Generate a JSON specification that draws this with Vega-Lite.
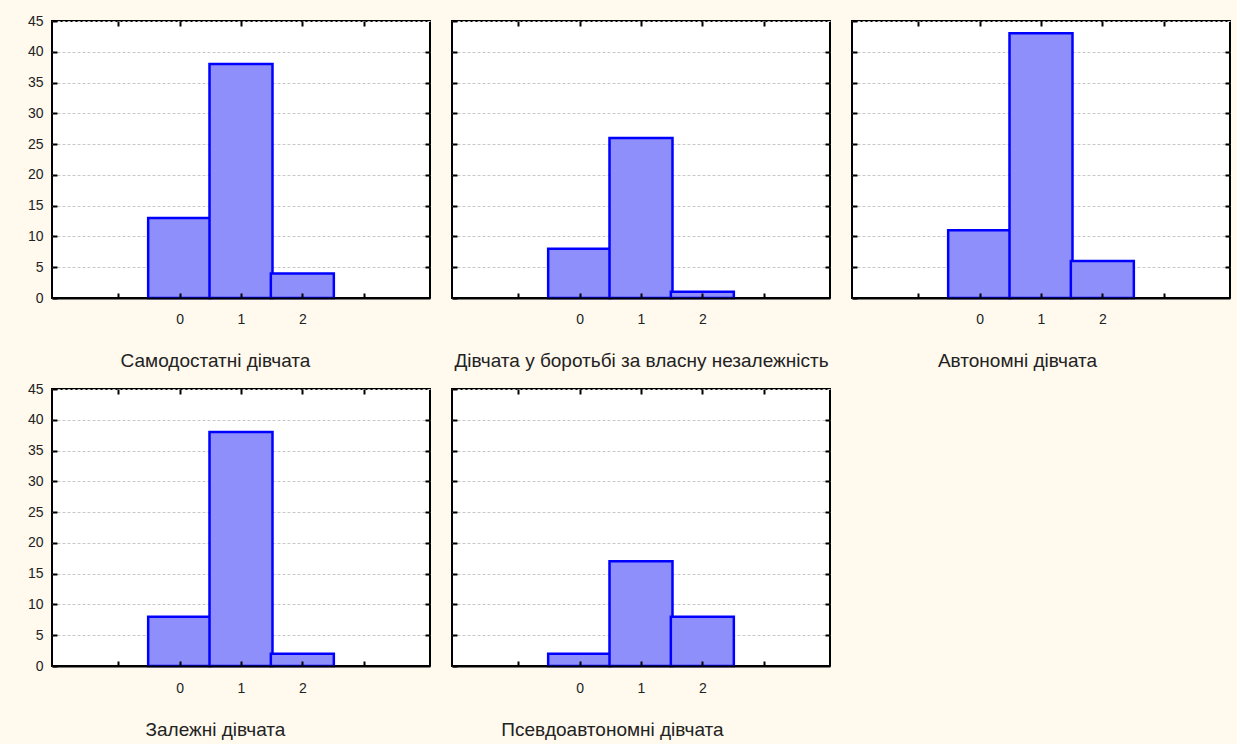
{
  "$schema": "https://vega.github.io/schema/vega-lite/v6.json",
  "background": "#FFF9EE",
  "padding": {"left": 26, "top": 13, "right": 5, "bottom": 5},
  "data": {"values": [
    {"group": "Самодостатні дівчата", "value": 0, "count": 13},
    {"group": "Самодостатні дівчата", "value": 1, "count": 38},
    {"group": "Самодостатні дівчата", "value": 2, "count": 4},
    {"group": "Дівчата у боротьбі за власну незалежність", "value": 0, "count": 8},
    {"group": "Дівчата у боротьбі за власну незалежність", "value": 1, "count": 26},
    {"group": "Дівчата у боротьбі за власну незалежність", "value": 2, "count": 1},
    {"group": "Автономні дівчата", "value": 0, "count": 11},
    {"group": "Автономні дівчата", "value": 1, "count": 43},
    {"group": "Автономні дівчата", "value": 2, "count": 6},
    {"group": "Залежні дівчата", "value": 0, "count": 8},
    {"group": "Залежні дівчата", "value": 1, "count": 38},
    {"group": "Залежні дівчата", "value": 2, "count": 2},
    {"group": "Псевдоавтономні дівчата", "value": 0, "count": 2},
    {"group": "Псевдоавтономні дівчата", "value": 1, "count": 17},
    {"group": "Псевдоавтономні дівчата", "value": 2, "count": 8}
  ]},
  "config": {
    "font": "Liberation Sans",
    "view": {"fill": "white", "stroke": "black", "strokeWidth": 2},
    "axis": {
      "domain": false,
      "grid": false,
      "tickColor": "black",
      "tickWidth": 2,
      "tickSize": -5,
      "labelFont": "Liberation Sans",
      "labelFontSize": 14,
      "labelColor": "#222222",
      "titleFont": "Liberation Sans",
      "titleFontSize": 19,
      "titleFontWeight": "normal",
      "titleColor": "#222222"
    }
  },
  "columns": 3,
  "bounds": "flush",
  "spacing": {"row": 91, "column": 22},
  "concat": [
    {
      "width": 378, "height": 277,
      "transform": [{"filter": "datum.group === 'Самодостатні дівчата'"}],
      "layer": [
        {"mark": {"type": "bar", "width": 63, "fill": "#8f8ffb", "stroke": "#0000ff", "strokeWidth": 2.5},
         "encoding": {
           "x": {"field": "value", "type": "quantitative", "scale": {"domain": [-2, 4], "nice": false, "zero": false},
                 "axis": {"orient": "bottom", "values": [-1, 0, 1, 2, 3], "labelExpr": "datum.value >= 0 && datum.value <= 2 ? datum.label : ''",
                          "domain": true, "domainColor": "black", "domainWidth": 2, "zindex": 1, "labelPadding": 30, "labelBaseline": "alphabetic",
                          "title": "Самодостатні дівчата", "titleX": 163, "titleY": 68, "titleBaseline": "alphabetic"}},
           "y": {"field": "count", "type": "quantitative", "scale": {"domain": [0, 45], "nice": false},
                 "axis": {"orient": "left", "values": [0, 5, 10, 15, 20, 25, 30, 35, 40, 45], "grid": true, "gridColor": "#c8c8c8", "gridDash": [3, 2], "gridWidth": 1, "labelPadding": 14, "title": null}}
         }},
        {"mark": {"type": "bar", "width": 63, "opacity": 0},
         "encoding": {
           "x": {"field": "value", "type": "quantitative", "axis": {"orient": "top", "values": [-1, 0, 1, 2, 3], "labels": false, "title": null}},
           "y": {"field": "count", "type": "quantitative", "axis": {"orient": "right", "values": [5, 10, 15, 20, 25, 30, 35, 40], "labels": false, "title": null}}
         }}
      ]
    },
    {
      "width": 378, "height": 277,
      "transform": [{"filter": "datum.group === 'Дівчата у боротьбі за власну незалежність'"}],
      "layer": [
        {"mark": {"type": "bar", "width": 63, "fill": "#8f8ffb", "stroke": "#0000ff", "strokeWidth": 2.5},
         "encoding": {
           "x": {"field": "value", "type": "quantitative", "scale": {"domain": [-2, 4], "nice": false, "zero": false},
                 "axis": {"orient": "bottom", "values": [-1, 0, 1, 2, 3], "labelExpr": "datum.value >= 0 && datum.value <= 2 ? datum.label : ''",
                          "domain": true, "domainColor": "black", "domainWidth": 2, "zindex": 1, "labelPadding": 30, "labelBaseline": "alphabetic",
                          "title": "Дівчата у боротьбі за власну незалежність", "titleFontSize": 19, "titleX": 189, "titleY": 68, "titleBaseline": "alphabetic"}},
           "y": {"field": "count", "type": "quantitative", "scale": {"domain": [0, 45], "nice": false},
                 "axis": {"orient": "left", "values": [0, 5, 10, 15, 20, 25, 30, 35, 40, 45], "labels": false, "grid": true, "gridColor": "#c8c8c8", "gridDash": [3, 2], "gridWidth": 1, "title": null}}
         }},
        {"mark": {"type": "bar", "width": 63, "opacity": 0},
         "encoding": {
           "x": {"field": "value", "type": "quantitative", "axis": {"orient": "top", "values": [-1, 0, 1, 2, 3], "labels": false, "title": null}},
           "y": {"field": "count", "type": "quantitative", "axis": {"orient": "right", "values": [5, 10, 15, 20, 25, 30, 35, 40], "labels": false, "title": null}}
         }}
      ]
    },
    {
      "width": 378, "height": 277,
      "transform": [{"filter": "datum.group === 'Автономні дівчата'"}],
      "layer": [
        {"mark": {"type": "bar", "width": 63, "fill": "#8f8ffb", "stroke": "#0000ff", "strokeWidth": 2.5},
         "encoding": {
           "x": {"field": "value", "type": "quantitative", "scale": {"domain": [-2, 4], "nice": false, "zero": false},
                 "axis": {"orient": "bottom", "values": [-1, 0, 1, 2, 3], "labelExpr": "datum.value >= 0 && datum.value <= 2 ? datum.label : ''",
                          "domain": true, "domainColor": "black", "domainWidth": 2, "zindex": 1, "labelPadding": 30, "labelBaseline": "alphabetic",
                          "title": "Автономні дівчата", "titleX": 165, "titleY": 68, "titleBaseline": "alphabetic"}},
           "y": {"field": "count", "type": "quantitative", "scale": {"domain": [0, 45], "nice": false},
                 "axis": {"orient": "left", "values": [0, 5, 10, 15, 20, 25, 30, 35, 40, 45], "labels": false, "grid": true, "gridColor": "#c8c8c8", "gridDash": [3, 2], "gridWidth": 1, "title": null}}
         }},
        {"mark": {"type": "bar", "width": 63, "opacity": 0},
         "encoding": {
           "x": {"field": "value", "type": "quantitative", "axis": {"orient": "top", "values": [-1, 0, 1, 2, 3], "labels": false, "title": null}},
           "y": {"field": "count", "type": "quantitative", "axis": {"orient": "right", "values": [5, 10, 15, 20, 25, 30, 35, 40], "labels": false, "title": null}}
         }}
      ]
    },
    {
      "width": 378, "height": 277,
      "transform": [{"filter": "datum.group === 'Залежні дівчата'"}],
      "layer": [
        {"mark": {"type": "bar", "width": 63, "fill": "#8f8ffb", "stroke": "#0000ff", "strokeWidth": 2.5},
         "encoding": {
           "x": {"field": "value", "type": "quantitative", "scale": {"domain": [-2, 4], "nice": false, "zero": false},
                 "axis": {"orient": "bottom", "values": [-1, 0, 1, 2, 3], "labelExpr": "datum.value >= 0 && datum.value <= 2 ? datum.label : ''",
                          "domain": true, "domainColor": "black", "domainWidth": 2, "zindex": 1, "labelPadding": 31, "labelBaseline": "alphabetic",
                          "title": "Залежні дівчата", "titleX": 163, "titleY": 69, "titleBaseline": "alphabetic"}},
           "y": {"field": "count", "type": "quantitative", "scale": {"domain": [0, 45], "nice": false},
                 "axis": {"orient": "left", "values": [0, 5, 10, 15, 20, 25, 30, 35, 40, 45], "grid": true, "gridColor": "#c8c8c8", "gridDash": [3, 2], "gridWidth": 1, "labelPadding": 14, "title": null}}
         }},
        {"mark": {"type": "bar", "width": 63, "opacity": 0},
         "encoding": {
           "x": {"field": "value", "type": "quantitative", "axis": {"orient": "top", "values": [-1, 0, 1, 2, 3], "labels": false, "title": null}},
           "y": {"field": "count", "type": "quantitative", "axis": {"orient": "right", "values": [5, 10, 15, 20, 25, 30, 35, 40], "labels": false, "title": null}}
         }}
      ]
    },
    {
      "width": 378, "height": 277,
      "transform": [{"filter": "datum.group === 'Псевдоавтономні дівчата'"}],
      "layer": [
        {"mark": {"type": "bar", "width": 63, "fill": "#8f8ffb", "stroke": "#0000ff", "strokeWidth": 2.5},
         "encoding": {
           "x": {"field": "value", "type": "quantitative", "scale": {"domain": [-2, 4], "nice": false, "zero": false},
                 "axis": {"orient": "bottom", "values": [-1, 0, 1, 2, 3], "labelExpr": "datum.value >= 0 && datum.value <= 2 ? datum.label : ''",
                          "domain": true, "domainColor": "black", "domainWidth": 2, "zindex": 1, "labelPadding": 31, "labelBaseline": "alphabetic",
                          "title": "Псевдоавтономні дівчата", "titleX": 160, "titleY": 69, "titleBaseline": "alphabetic"}},
           "y": {"field": "count", "type": "quantitative", "scale": {"domain": [0, 45], "nice": false},
                 "axis": {"orient": "left", "values": [0, 5, 10, 15, 20, 25, 30, 35, 40, 45], "labels": false, "grid": true, "gridColor": "#c8c8c8", "gridDash": [3, 2], "gridWidth": 1, "title": null}}
         }},
        {"mark": {"type": "bar", "width": 63, "opacity": 0},
         "encoding": {
           "x": {"field": "value", "type": "quantitative", "axis": {"orient": "top", "values": [-1, 0, 1, 2, 3], "labels": false, "title": null}},
           "y": {"field": "count", "type": "quantitative", "axis": {"orient": "right", "values": [5, 10, 15, 20, 25, 30, 35, 40], "labels": false, "title": null}}
         }}
      ]
    }
  ]
}
